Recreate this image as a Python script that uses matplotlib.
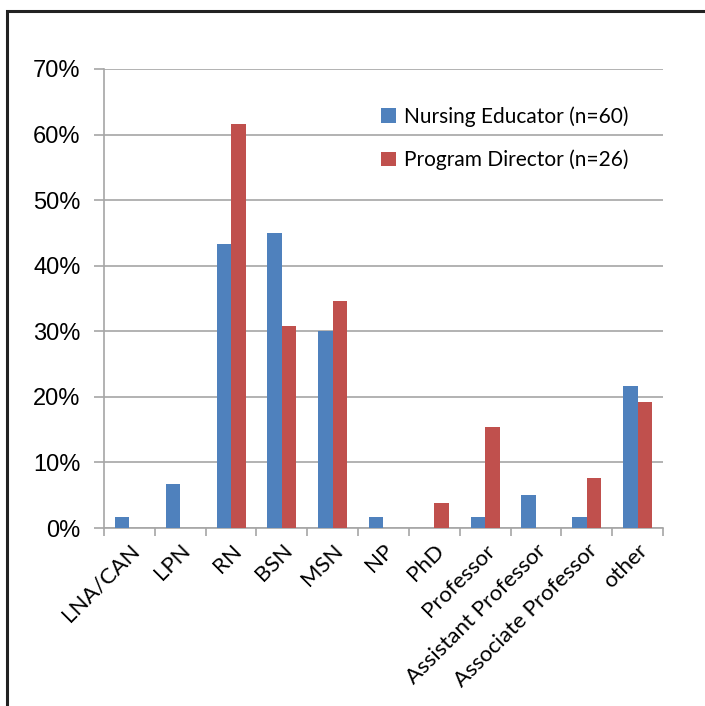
import matplotlib.pyplot as plt
from matplotlib.patches import Rectangle
from matplotlib.ticker import FuncFormatter
import numpy as np

categories = ["LNA/CAN", "LPN", "RN", "BSN", "MSN", "NP", "PhD", "Professor",
              "Assistant Professor", "Associate Professor", "other"]
educator   = [1.67, 6.67, 43.33, 45.0, 30.0, 1.67, 0.0, 1.67, 5.0, 1.67, 21.67]
director   = [0.0, 0.0, 61.54, 30.77, 34.62, 0.0, 3.85, 15.38, 0.0, 7.69, 19.23]
seriesNames = ["Nursing Educator (n=60)", "Program Director (n=26)"]
yTicks      = [0, 10, 20, 30, 40, 50, 60, 70]

blue  = "#4F81BD"
red   = "#C0504D"
grid  = "#A6A6A6"
label = "Lato"

fig = plt.figure(figsize=(7.05, 7.06), dpi=100)
ax  = fig.add_axes([0.1475, 0.2521, 0.7929, 0.6502])

# outer frame of the chart
fig.patches.append(Rectangle((7/705, -0.05), 1.2, 1 - 11/706 + 0.05,
                             transform=fig.transFigure, fill=False,
                             edgecolor="#222222", linewidth=2.2))

x     = np.arange(len(categories))
width = 1 / 3.5
ax.bar(x - width/2, educator, width, color=blue, label=seriesNames[0], zorder=3)
ax.bar(x + width/2, director, width, color=red,  label=seriesNames[1], zorder=3)

ax.set_xlim(-0.5, len(categories) - 0.5)
ax.set_ylim(0, 70)
ax.set_yticks(yTicks)
ax.yaxis.set_major_formatter(FuncFormatter(lambda v, p: "%d%%" % v))
ax.grid(axis="y", color=grid, linewidth=1.2, zorder=0)

for side in ["top", "right"]:
    ax.spines[side].set_visible(False)
ax.spines["left"].set_color(grid)
ax.spines["bottom"].set_color(grid)
ax.spines["left"].set_linewidth(1.2)
ax.spines["bottom"].set_linewidth(1.2)

ax.tick_params(axis="y", length=7, color=grid, width=1.2, pad=10,
               labelsize=17)
for t in ax.get_yticklabels():
    t.set_fontfamily("Liberation Sans")

# x ticks at category boundaries, labels at centers
ax.set_xticks(np.arange(-0.5, len(categories)), minor=False)
ax.set_xticklabels([])
ax.tick_params(axis="x", length=6, color=grid, width=1.2)
ax.set_xticks(x, minor=True)
ax.set_xticklabels(categories, minor=True, rotation=45, ha="right",
                   va="top", rotation_mode="anchor", fontsize=16,
                   fontfamily=label)
ax.tick_params(axis="x", which="minor", length=0, pad=9)

leg = ax.legend(loc="upper left", bbox_to_anchor=(0.462, 0.96), frameon=False,
                prop={"family": label, "size": 15},
                handlelength=0.7, handleheight=0.7, handletextpad=0.4,
                labelspacing=1.1)

fig.savefig("out.png", dpi=100)
